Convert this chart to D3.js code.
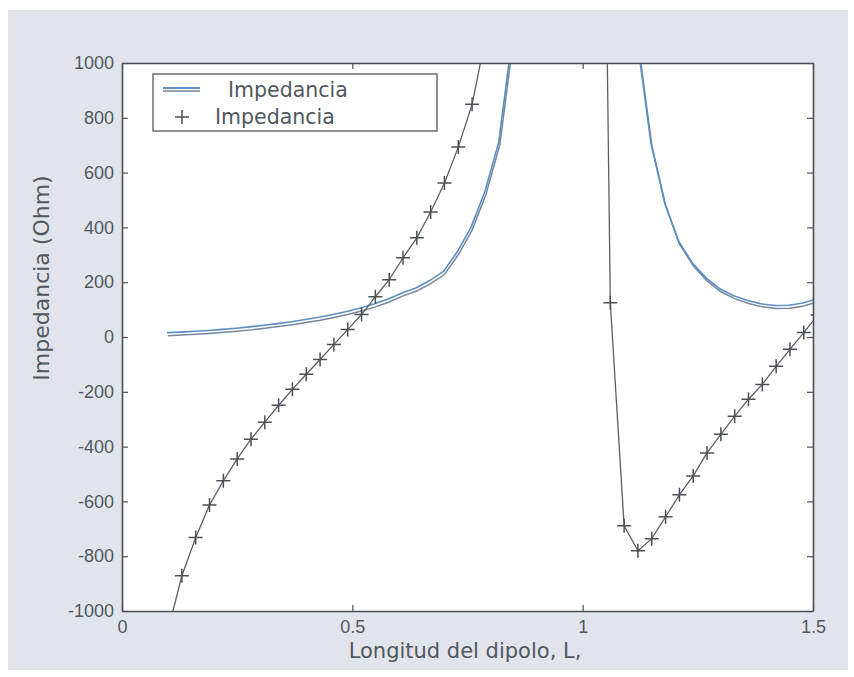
<!DOCTYPE html>
<html>
<head>
<meta charset="utf-8">
<script src="https://cdn.jsdelivr.net/npm/d3@7"></script>
<style>
  html, body { margin: 0; padding: 0; background: #ffffff; }
  svg { display: block; }
  text { font-family: "DejaVu Sans", "Liberation Sans", Arial, sans-serif; fill: #505860; }
  .tick text { font-family: "Liberation Sans", Arial, sans-serif; }
</style>
</head>
<body>
<svg id="chart" width="854" height="677"></svg>
<script>
// Dipole length in wavelengths
const longitud = [0.10, 0.13, 0.16, 0.19, 0.22, 0.25, 0.28, 0.31, 0.34, 0.37,
                  0.40, 0.43, 0.46, 0.49, 0.52, 0.55, 0.58, 0.61, 0.64, 0.67,
                  0.70, 0.73, 0.76, 0.79, 0.82, 0.85, 0.88, 0.91, 0.94, 0.97,
                  1.00, 1.03, 1.06, 1.09, 1.12, 1.15, 1.18, 1.21, 1.24, 1.27,
                  1.30, 1.33, 1.36, 1.39, 1.42, 1.45, 1.48, 1.51];

// Input resistance (Ohm)
const resistencia = [5, 7, 10, 13, 17, 21, 26, 32, 38, 45,
                     53, 61, 71, 82, 95, 110, 128, 150, 168, 195,
                     228, 300, 390, 520, 700, 1090, 1600, 2200, 2900, 3500,
                     3900, 3800, 3200, 2000, 1080, 700, 480, 340, 260, 205,
                     165, 140, 122, 110, 104, 105, 113, 128];

// Input reactance (Ohm)
const reactancia = [-1070, -871, -732, -613, -525, -445, -373, -311, -249, -191,
                    -136, -82, -27, 27, 82, 147, 209, 289, 362, 456,
                    562, 693, 849, 1100, 1450, 1900, 2400, 2900, 3300, 3600,
                    3900, 4200, 125, -689, -780, -736, -656, -576, -507, -423,
                    -355, -289, -227, -173, -107, -45, 16, 80];

const xTicks = [0, 0.5, 1, 1.5];
const xTickLabels = ["0", "0.5", "1", "1.5"];
const yTicks = [-1000, -800, -600, -400, -200, 0, 200, 400, 600, 800, 1000];
const yTickLabels = ["-1000", "-800", "-600", "-400", "-200", "0", "200", "400", "600", "800", "1000"];
const legendLabels = ["Impedancia", "Impedancia"];

const svg = d3.select("#chart");
const W = 854, H = 677;
const plot = { left: 122, top: 63, right: 813, bottom: 611 };

// Paper tone behind the figure
svg.append("rect").attr("x", 0).attr("y", 0).attr("width", W).attr("height", H).attr("fill", "#ffffff");
svg.append("rect").attr("x", 8).attr("y", 10).attr("width", 840).attr("height", 660).attr("fill", "#e1e5eb");

const x = d3.scaleLinear().domain([0, 1.5]).range([plot.left, plot.right]);
const y = d3.scaleLinear().domain([-1000, 1000]).range([plot.bottom, plot.top]);

// Axes background
svg.append("rect")
  .attr("x", plot.left).attr("y", plot.top)
  .attr("width", plot.right - plot.left).attr("height", plot.bottom - plot.top)
  .attr("fill", "#ffffff");

svg.append("defs").append("clipPath").attr("id", "clip")
  .append("rect")
  .attr("x", plot.left).attr("y", plot.top)
  .attr("width", plot.right - plot.left).attr("height", plot.bottom - plot.top);

const g = svg.append("g").attr("clip-path", "url(#clip)");

const rows = longitud.map((L, i) => ({ L, R: resistencia[i], X: reactancia[i] }));

const lineR = d3.line().x(d => x(d.L)).y(d => y(d.R));
const lineX = d3.line().x(d => x(d.L)).y(d => y(d.X));

// Resistance curve: doubled trace
g.append("path").datum(rows).attr("d", lineR)
  .attr("fill", "none").attr("stroke", "#76869a").attr("stroke-width", 1.5);
g.append("path").datum(rows).attr("d", lineR)
  .attr("transform", "translate(-1,-3)")
  .attr("fill", "none").attr("stroke", "#5b8fc4").attr("stroke-width", 1.6);

// Reactance curve with + markers
g.append("path").datum(rows).attr("d", lineX)
  .attr("fill", "none").attr("stroke", "#5a5f66").attr("stroke-width", 1.3);

g.selectAll(".mk").data(rows.filter(d => d.X >= -1000 && d.X <= 1000))
  .join("path").attr("class", "mk")
  .attr("d", "M-7,0H7M0,-7V7")
  .attr("transform", d => `translate(${x(d.L)},${y(d.X)})`)
  .attr("fill", "none").attr("stroke", "#4a4f56").attr("stroke-width", 1.5);

// Axes: box with inward ticks on all sides
const axisColor = "#4a4e54";
const axB = svg.append("g").attr("transform", `translate(0,${plot.bottom})`)
  .call(d3.axisBottom(x).tickValues(xTicks).tickSizeInner(-6).tickSizeOuter(0).tickPadding(9)
    .tickFormat((d, i) => xTickLabels[i]));
const axT = svg.append("g").attr("transform", `translate(0,${plot.top})`)
  .call(d3.axisTop(x).tickValues(xTicks).tickSizeInner(-6).tickSizeOuter(0).tickFormat(""));
const axL = svg.append("g").attr("transform", `translate(${plot.left},0)`)
  .call(d3.axisLeft(y).tickValues(yTicks).tickSizeInner(-6).tickSizeOuter(0).tickPadding(8)
    .tickFormat((d, i) => yTickLabels[i]));
const axR = svg.append("g").attr("transform", `translate(${plot.right},0)`)
  .call(d3.axisRight(y).tickValues(yTicks).tickSizeInner(-6).tickSizeOuter(0).tickFormat(""));

[axB, axT, axL, axR].forEach(a => {
  a.select(".domain").attr("stroke", axisColor).attr("stroke-width", 1.6);
  a.selectAll(".tick line").attr("stroke", axisColor).attr("stroke-width", 1.2);
  a.selectAll(".tick text").style("font-size", "18px").attr("fill", "#505860");
});

// Axis titles
svg.append("text")
  .attr("x", 465).attr("y", 658)
  .attr("text-anchor", "middle")
  .style("font-size", "21px")
  .text("Longitud del dipolo, L,");

svg.append("text")
  .attr("transform", "translate(49,278) rotate(-90)")
  .attr("text-anchor", "middle")
  .style("font-size", "22px")
  .text("Impedancia (Ohm)");

// Legend
const lg = svg.append("g");
lg.append("rect").attr("x", 153).attr("y", 74).attr("width", 284).attr("height", 57)
  .attr("fill", "#ffffff").attr("stroke", "#55595f").attr("stroke-width", 1.3);
lg.append("line").attr("x1", 163).attr("x2", 200).attr("y1", 88).attr("y2", 88)
  .attr("stroke", "#5b8fc4").attr("stroke-width", 2);
lg.append("line").attr("x1", 163).attr("x2", 200).attr("y1", 91).attr("y2", 91)
  .attr("stroke", "#76869a").attr("stroke-width", 1.6);
lg.append("path").attr("d", "M175,117H189M182,110V124")
  .attr("stroke", "#4a4f56").attr("stroke-width", 1.5).attr("fill", "none");
lg.append("text").attr("x", 228).attr("y", 97).style("font-size", "20.5px").text(legendLabels[0]);
lg.append("text").attr("x", 215).attr("y", 124).style("font-size", "20.5px").text(legendLabels[1]);
</script>
</body>
</html>
